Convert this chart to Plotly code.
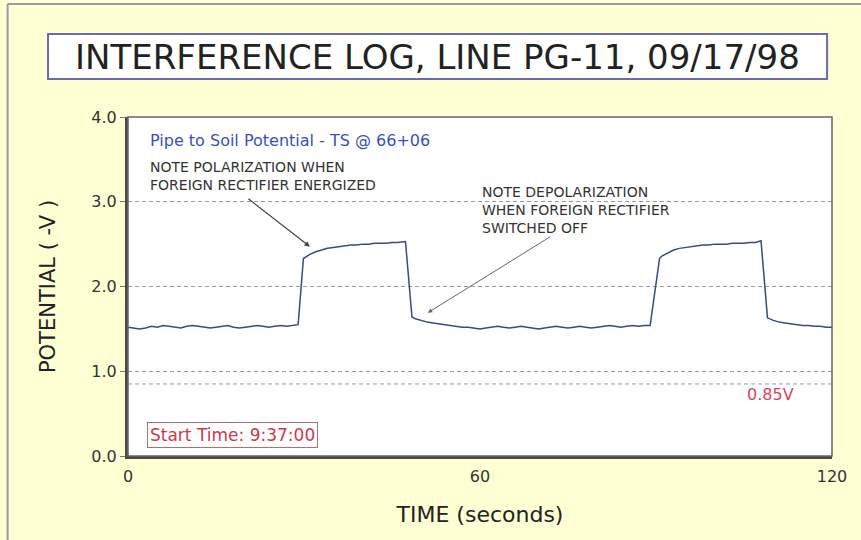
import plotly.graph_objects as go

# ---- data ----
time_s = [0, 1, 2, 3, 4, 5, 6, 7, 8, 9, 10, 11, 12, 13, 14, 15, 16, 17, 18, 19,
          20, 21, 22, 23, 24, 25, 26, 27, 28, 29,
          29.9, 30.5, 31, 32, 33, 34, 35, 36, 37, 38, 39, 40, 41, 42, 43, 44, 45, 46, 47.3,
          48.4, 49, 50, 51, 52, 53, 54, 55, 56,
          57, 58, 59, 60, 61, 62, 63, 64, 65, 66, 67, 68, 69, 70, 71, 72, 73, 74, 75, 76,
          77, 78, 79, 80, 81, 82, 83, 84, 85, 86, 87, 88, 89,
          90.6, 91, 92, 93, 94, 95, 96, 97, 98, 99, 100, 101, 102, 103, 104, 105, 106, 107, 107.9,
          109.0, 110, 111, 112, 113, 114, 115, 116, 117, 118, 119, 120]
potential = [1.52, 1.51, 1.50, 1.51, 1.53, 1.52, 1.54, 1.53, 1.52, 1.51, 1.53, 1.54, 1.53, 1.52, 1.51,
             1.52, 1.53, 1.54, 1.52, 1.51, 1.52, 1.53, 1.54, 1.53, 1.52, 1.53, 1.54, 1.53, 1.54, 1.55,
             2.33, 2.36, 2.38, 2.41, 2.43, 2.45, 2.46, 2.47, 2.48, 2.49, 2.49, 2.50, 2.50, 2.51, 2.51,
             2.51, 2.52, 2.52, 2.53,
             1.64, 1.62, 1.60, 1.58, 1.57, 1.56, 1.55, 1.54, 1.53,
             1.52, 1.52, 1.51, 1.50, 1.51, 1.52, 1.53, 1.52, 1.51, 1.52, 1.53, 1.52, 1.51, 1.50, 1.51,
             1.52, 1.53, 1.52, 1.51, 1.52, 1.53, 1.52, 1.51, 1.52, 1.53, 1.54, 1.53, 1.52, 1.53, 1.54,
             1.53, 1.54, 1.54,
             2.33, 2.36, 2.40, 2.43, 2.45, 2.46, 2.47, 2.48, 2.49, 2.49, 2.50, 2.50, 2.50, 2.51, 2.51,
             2.51, 2.52, 2.52, 2.54,
             1.63, 1.60, 1.58, 1.57, 1.56, 1.55, 1.54, 1.54, 1.53, 1.53, 1.52, 1.52]

x_ticks = [0, 60, 120]
y_ticks = [0, 1, 2, 3, 4]
y_tick_labels = ["0.0", "1.0", "2.0", "3.0", "4.0"]
criterion_v = 0.85

FONT = "DejaVu Sans"
PAPER = "#FFFFD4"
GRID_DASH = "4px,3px"

fig = go.Figure()
fig.add_trace(go.Scatter(x=time_s, y=potential, mode="lines",
                         line=dict(color="#3b4a82", width=1.5),
                         hoverinfo="skip", showlegend=False))

fig.update_layout(
    width=861, height=540,
    margin=dict(l=128, r=29, t=117, b=84),
    paper_bgcolor=PAPER, plot_bgcolor="white",
    font=dict(family=FONT, color="#333333"),
    showlegend=False,
)

fig.update_xaxes(
    range=[0, 120], tickvals=x_ticks, ticktext=[str(v) for v in x_ticks],
    showgrid=False, zeroline=False,
    showline=True, linecolor="#4a4a40", linewidth=3,
    ticks="outside", ticklen=4, tickcolor=PAPER,
    tickfont=dict(size=16, color="#333333"),
    title=dict(text="TIME (seconds)", font=dict(size=22, color="#222222"), standoff=22),
)
fig.update_yaxes(
    range=[0, 4], tickvals=y_ticks, ticktext=y_tick_labels,
    showgrid=True, gridcolor="#9a9a9a", griddash=GRID_DASH, gridwidth=1,
    zeroline=False,
    showline=True, linecolor="#4a4a40", linewidth=3,
    ticks="outside", ticklen=5, tickcolor="#777777",
    tickfont=dict(size=16, color="#333333"),
    title=dict(text="POTENTIAL ( -V )", font=dict(size=21, color="#222222"), standoff=30),
)

shapes = [
    # thin border (top & right) of the plot area
    dict(type="rect", xref="paper", yref="paper", x0=0, x1=1, y0=0, y1=1,
         line=dict(color="#666666", width=1.5), layer="above"),
    # 0.85 V criterion line
    dict(type="line", xref="paper", yref="y", x0=0, x1=1, y0=criterion_v, y1=criterion_v,
         line=dict(color="#9a9a9a", width=1, dash=GRID_DASH), layer="below"),
    # title box
    dict(type="rect", xref="paper", yref="paper", x0=-0.1136, x1=0.993, y0=1.112, y1=1.245,
         fillcolor="white", line=dict(color="#6b6bb0", width=2)),
    # outer frame lines (left and top)
    dict(type="line", xref="paper", yref="paper", x0=-0.171, x1=-0.171, y0=-0.25, y1=1.333,
         line=dict(color="#9a9aa8", width=2)),
    dict(type="line", xref="paper", yref="paper", x0=-0.171, x1=1.05, y0=1.333, y1=1.333,
         line=dict(color="#9a9aa8", width=2)),
]
fig.update_layout(shapes=shapes)

note_col = "#333333"
annotations = [
    dict(text="INTERFERENCE LOG, LINE PG-11, 09/17/98", xref="paper", yref="paper",
         x=0.4396, y=1.178, showarrow=False, font=dict(size=34, color="#222222"),
         xanchor="center", yanchor="middle"),
    dict(text="Pipe to Soil Potential - TS @ 66+06", xref="x", yref="y", x=3.4, y=3.717,
         showarrow=False, xanchor="left", yanchor="middle", font=dict(size=16, color="#3a4fc0")),
    dict(text="NOTE POLARIZATION WHEN<br>FOREIGN RECTIFIER ENERGIZED", xref="x", yref="y",
         x=3.4, y=3.30, showarrow=False, xanchor="left", yanchor="middle", align="left",
         font=dict(size=14, color=note_col)),
    dict(text="NOTE DEPOLARIZATION<br>WHEN FOREIGN RECTIFIER<br>SWITCHED OFF", xref="x", yref="y",
         x=60.0, y=2.90, showarrow=False, xanchor="left", yanchor="middle", align="left",
         font=dict(size=14, color=note_col)),
    # arrows
    dict(text="", xref="x", yref="y", x=31.0, y=2.47, ax=-63, ay=-49,
         showarrow=True, arrowhead=2, arrowsize=0.9, arrowwidth=1.2, arrowcolor="#444444"),
    dict(text="", xref="x", yref="y", x=51.1, y=1.69, ax=124, ay=-77,
         showarrow=True, arrowhead=2, arrowsize=0.9, arrowwidth=1.0, arrowcolor="#666666"),
    dict(text="0.85V", xref="x", yref="y", x=109.6, y=0.72, showarrow=False,
         xanchor="center", yanchor="middle", font=dict(size=16, color="#d9475a")),
    dict(text="Start Time: 9:37:00", xref="x", yref="y", x=17.8, y=0.248, showarrow=False,
         xanchor="center", yanchor="middle", font=dict(size=17, color="#cc3a4a"),
         bordercolor="#b07070", borderwidth=1, borderpad=2, bgcolor="white"),
]
fig.update_layout(annotations=annotations)

fig.write_html("out.html", config={"displayModeBar": False},
               post_script="document.body.style.margin='0';document.body.style.overflow='hidden';")
